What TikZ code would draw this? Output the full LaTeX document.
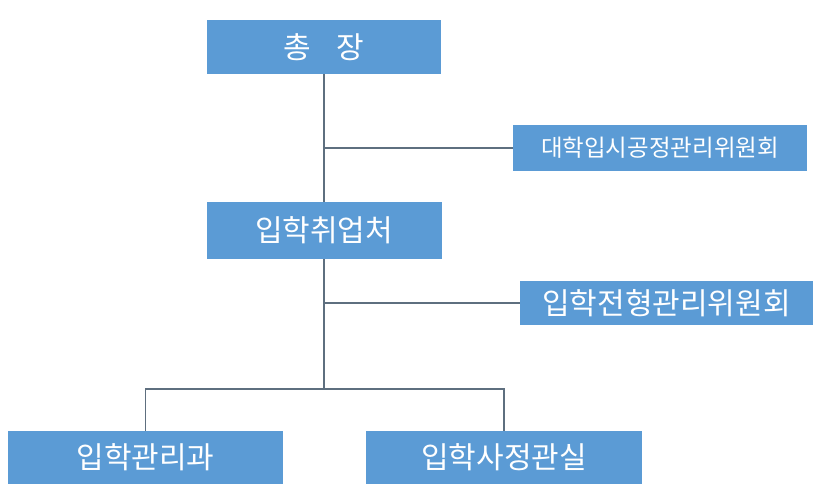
\documentclass[tikz,border=0pt]{standalone}
\usepackage{fontspec}
\setmainfont{Noto Sans CJK KR}
\definecolor{boxblue}{HTML}{5B9BD5}
\definecolor{linegray}{HTML}{5E6F7F}
\tikzset{
  orgbox/.style={fill=boxblue, draw=none, text=white, inner sep=0pt, font=\fontsize{30}{33}\selectfont},
  smallbox/.style={orgbox, font=\fontsize{23.5}{26}\selectfont},
  conn/.style={draw=linegray, line width=1.5pt}
}
\begin{document}
\begin{tikzpicture}[x=1pt,y=-1pt]
\useasboundingbox (0,0) rectangle (824,495);
\node[orgbox, minimum width=234pt, minimum height=54pt] (top) at (324,47) {총\hspace{0.85em}장};
\node[smallbox, minimum width=294pt, minimum height=46pt] (comm1) at (660,148) {대학입시공정관리위원회};
\node[orgbox, minimum width=235pt, minimum height=57pt] (mid) at (324,230.5) {입학취업처};
\node[orgbox, minimum width=293pt, minimum height=44pt] (comm2) at (666.5,303) {입학전형관리위원회};
\node[orgbox, minimum width=275pt, minimum height=53pt] (b1) at (145.5,457.5) {입학관리과};
\node[orgbox, minimum width=276pt, minimum height=53pt] (b2) at (504,457.5) {입학사정관실};
\coordinate (j) at (324,389);
\draw[conn] (top.south) -- (mid.north);
\draw[conn] (comm1.west) -- (comm1.west -| top.south);
\draw[conn] (mid.south) -- (j);
\draw[conn] (comm2.west) -- (comm2.west -| mid.south);
\draw[conn] (b1.north) |- (j) -| (b2.north);
\end{tikzpicture}
\end{document}
